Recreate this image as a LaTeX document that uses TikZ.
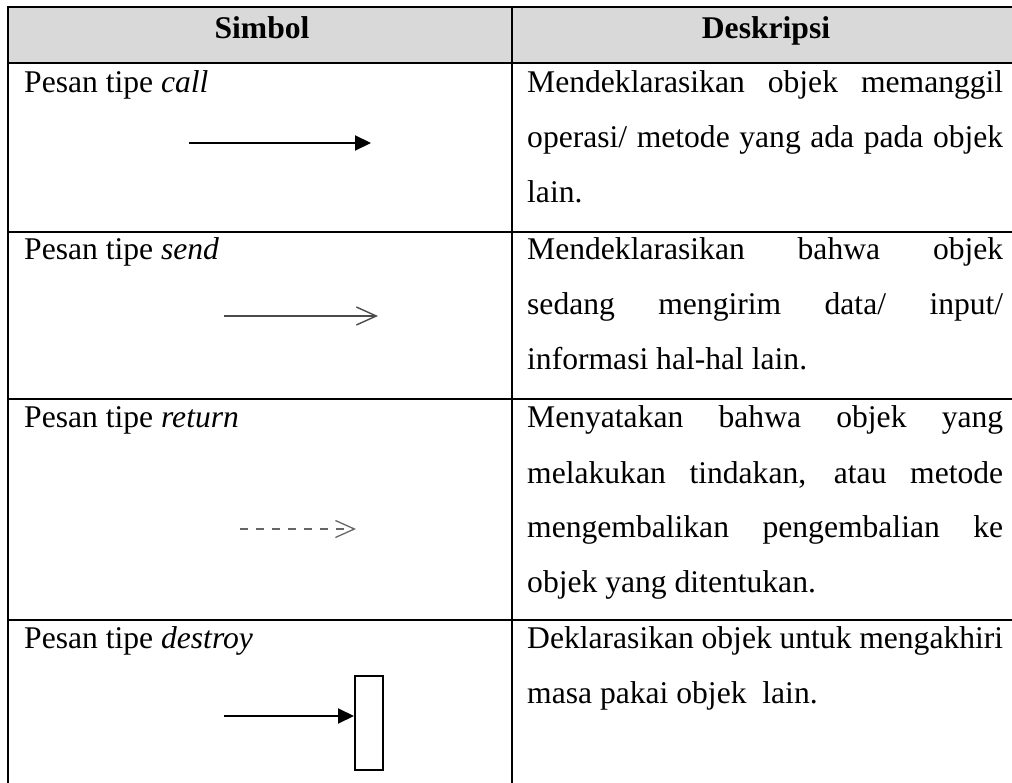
\documentclass[tikz,border=0pt]{standalone}
\usepackage{fontspec}
\setmainfont{Liberation Serif}
\usetikzlibrary{arrows.meta}
\definecolor{hdrgray}{HTML}{D9D9D9}
\begin{document}
\begin{tikzpicture}[x=1pt,y=-1pt,
  grid/.style={line width=2pt, black},
  txt/.style={anchor=base west, inner sep=0pt, font=\fontsize{31.6}{54.5}\selectfont},
  hdr/.style={anchor=base, inner sep=0pt, font=\fontsize{31.6}{54.5}\selectfont\bfseries},
  callarr/.style={line width=2pt, -{Triangle[length=16pt,width=15pt]}},
  sendarr/.style={line width=1.4pt, draw=black!70, -{Straight Barb[length=20pt,width=18pt]}},
  retarr/.style={line width=1.3pt, draw=black!60, dash pattern=on 8pt off 8pt, -{Straight Barb[length=19pt,width=17pt]}},
  lifebox/.style={draw, line width=2pt, fill=white, minimum width=28pt, minimum height=94pt, inner sep=0pt}
]
\useasboundingbox (0,0) rectangle (1012,783);
% header fill
\fill[hdrgray] (8,7) rectangle (1012,63);
% grid
\draw[grid] (7,7) -- (1012,7);
\draw[grid] (7,63) -- (1012,63);
\draw[grid] (7,232) -- (1012,232);
\draw[grid] (7,399) -- (1012,399);
\draw[grid] (7,620) -- (1012,620);
\draw[grid] (8,6) -- (8,783);
\draw[grid] (512,6) -- (512,783);
% header
\node[hdr] (hs) at (262,39) {Simbol};
\node[hdr] (hd) at (766,39) {Deskripsi};
% left column labels
\node[txt] (l1) at (24,93) {Pesan tipe \textit{call}};
\node[txt] (l2) at (24,260) {Pesan tipe \textit{send}};
\node[txt] (l3) at (24,428) {Pesan tipe \textit{return}};
\node[txt] (l4) at (24,648) {Pesan tipe \textit{destroy}};
% descriptions
\node[txt] (d11) at (527,93) {\makebox[476pt][s]{Mendeklarasikan objek memanggil}};
\node[txt] (d12) at (527,148) {\makebox[476pt][s]{operasi/ metode yang ada pada objek}};
\node[txt] (d13) at (527,203) {lain.};
\node[txt] (d21) at (527,260) {\makebox[476pt][s]{Mendeklarasikan bahwa objek}};
\node[txt] (d22) at (527,315) {\makebox[476pt][s]{sedang mengirim data/ input/}};
\node[txt] (d23) at (527,370) {informasi hal-hal lain.};
\node[txt] (d31) at (527,428) {\makebox[476pt][s]{Menyatakan bahwa objek yang}};
\node[txt] (d32) at (527,483) {\makebox[476pt][s]{melakukan tindakan, atau metode}};
\node[txt] (d33) at (527,537) {\makebox[476pt][s]{mengembalikan pengembalian ke}};
\node[txt] (d34) at (527,592) {objek yang ditentukan.};
\node[txt] (d41) at (527,648) {\makebox[476pt][s]{Deklarasikan objek untuk mengakhiri}};
\node[txt] (d42) at (527,703) {masa pakai objek\ \ lain.};
% symbols
\coordinate (ca) at (189,143);
\coordinate (cb) at (371,143);
\draw[callarr] (ca) -- (cb);
\coordinate (sa) at (224,316);
\coordinate (sb) at (378,316);
\draw[sendarr] (sa) -- (sb);
\coordinate (ra) at (240,529);
\coordinate (rb) at (356,529);
\draw[retarr] (ra) -- (rb);
\node[lifebox] (box) at (369,723) {};
\coordinate (da) at (224,716);
\draw[callarr] (da) -- (da -| box.west);
\end{tikzpicture}
\end{document}
